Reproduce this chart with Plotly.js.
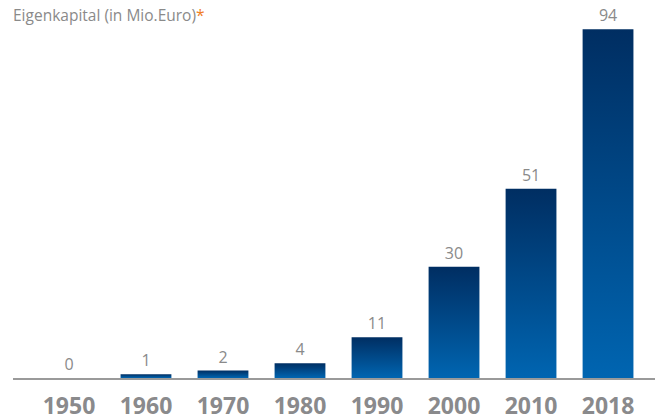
<!DOCTYPE html>
<html>
<head>
<meta charset="utf-8">
<script src="https://cdn.plot.ly/plotly-3.0.1.min.js"></script>
<style>
  html, body { margin: 0; padding: 0; background: #fff; }
  #chart { width: 655px; height: 420px; }
</style>
</head>
<body>
<div id="chart"></div>
<script>
    // Chart data
    const years = ['1950', '1960', '1970', '1980', '1990', '2000', '2010', '2018'];
    const equity = [0, 1, 2, 4, 11, 30, 51, 94];

    const barTrace = {
        type: 'bar',
        x: years,
        y: equity,
        marker: { color: '#004a8f' },
        text: equity.map(String),
        textposition: 'outside',
        textfont: { family: 'Open Sans', size: 16, color: '#8a8a8a' },
        cliponaxis: false,
        hoverinfo: 'none'
    };

    const layout = {
        width: 655,
        height: 420,
        margin: { t: 7, b: 42, l: 13, r: 0 },
        paper_bgcolor: '#fff',
        plot_bgcolor: '#fff',
        bargap: 0.34,
        showlegend: false,
        font: { family: 'Open Sans' },
        xaxis: {
            type: 'category',
            range: [-0.727, 7.61],
            showline: true,
            linecolor: '#9a9a9a',
            linewidth: 2,
            showgrid: false,
            zeroline: false,
            ticks: '',
            ticklabelstandoff: 6,
            tickfont: { family: 'Open Sans', size: 23, color: '#8a8a8c', weight: 'bold' }
        },
        yaxis: {
            range: [0, 100],
            visible: false,
            showgrid: false,
            zeroline: false
        },
        annotations: [
            {
                text: 'Eigenkapital (in Mio.Euro)<span style="color:#f07d1e">*</span>',
                xref: 'paper', yref: 'paper',
                x: -0.003, y: 1.0,
                xanchor: 'left', yanchor: 'middle',
                yshift: -8,
                showarrow: false,
                font: { family: 'Open Sans', size: 15.5, color: '#8a8a8a' }
            }
        ]
    };

    const config = { staticPlot: true };

    Plotly.newPlot('chart', [barTrace], layout, config).then(gd => {
        // Vertical gradient on each bar (dark navy top -> blue bottom)
        const svgNS = 'http://www.w3.org/2000/svg';
        const svg = gd.querySelector('svg.main-svg');
        let defs = svg.querySelector('defs');
        if (!defs) {
            defs = document.createElementNS(svgNS, 'defs');
            svg.insertBefore(defs, svg.firstChild);
        }
        const grad = document.createElementNS(svgNS, 'linearGradient');
        grad.setAttribute('id', 'barGrad');
        grad.setAttribute('x1', '0'); grad.setAttribute('y1', '0');
        grad.setAttribute('x2', '0'); grad.setAttribute('y2', '1');
        [['0', '#002e62'], ['1', '#0065b1']].forEach(([off, col]) => {
            const stop = document.createElementNS(svgNS, 'stop');
            stop.setAttribute('offset', off);
            stop.setAttribute('stop-color', col);
            grad.appendChild(stop);
        });
        defs.appendChild(grad);
        gd.querySelectorAll('.bars .point path').forEach(p => {
            p.style.fill = 'url(#barGrad)';
        });
    });
</script>
</body>
</html>
